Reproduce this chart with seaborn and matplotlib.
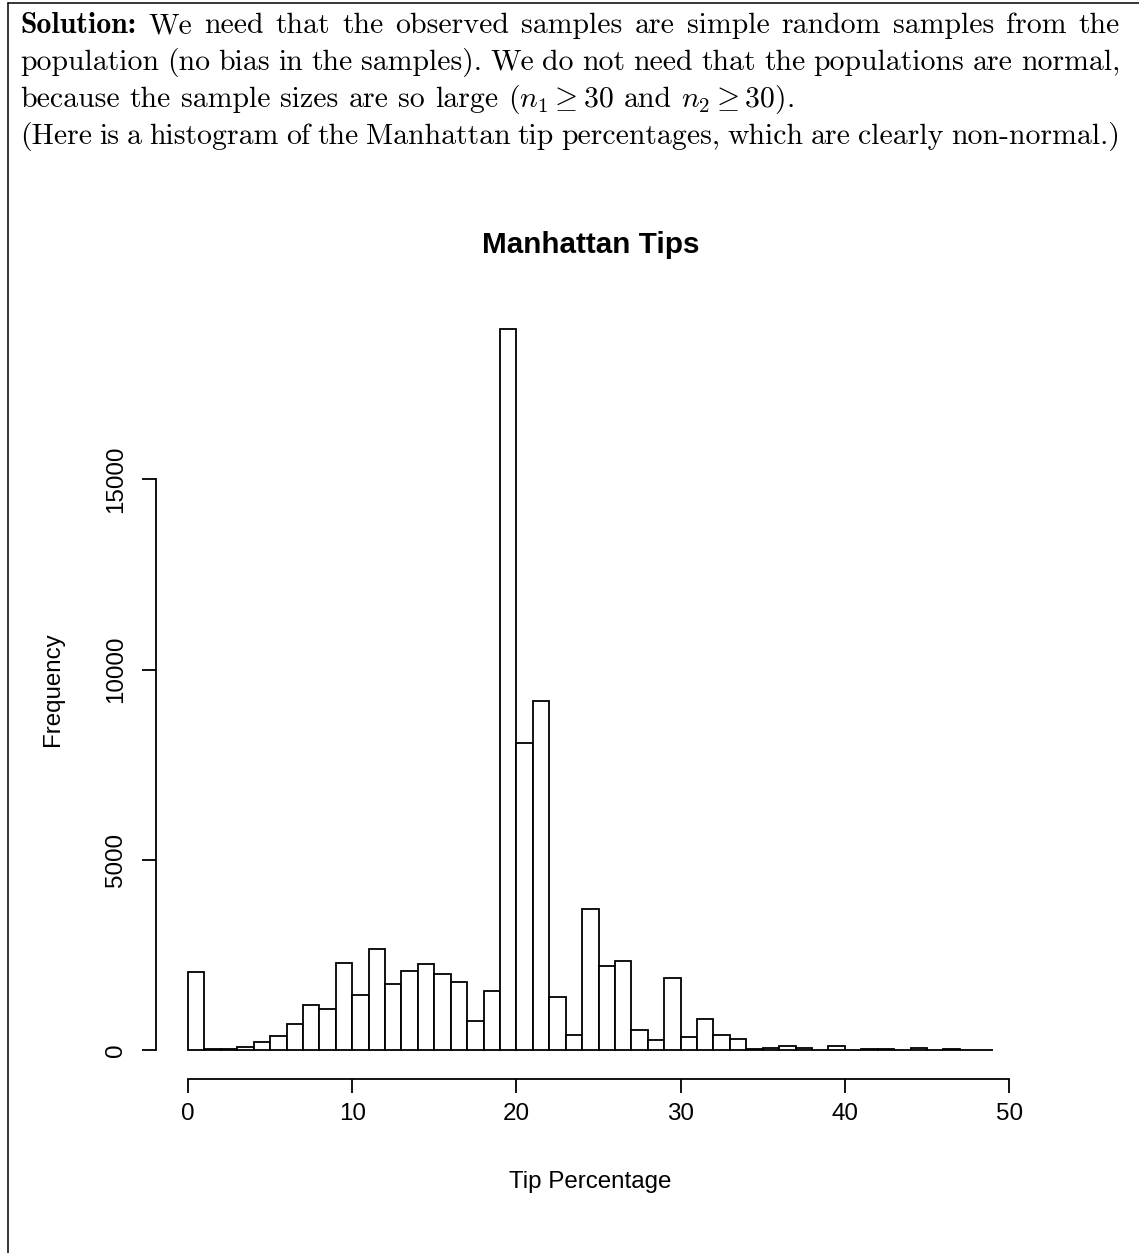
import numpy as np
import pandas as pd
import matplotlib
matplotlib.use("Agg")
import matplotlib.pyplot as plt
from matplotlib.lines import Line2D
import seaborn as sns

# Frequencies: one bar per 1-point bin, 0 to 49
bin_lefts = list(range(49))
counts = [2050, 35, 20, 90, 220, 380, 690, 1180, 1090, 2295,
          1440, 2670, 1740, 2080, 2260, 2000, 1780, 770, 1560, 18950,
          8070, 9170, 1390, 400, 3715, 2200, 2330, 530, 260, 1890,
          345, 810, 410, 285, 30, 60, 100, 60, 8, 120,
          6, 22, 30, 6, 55, 6, 20, 4, 4]
x_ticks = [0, 10, 20, 30, 40, 50]
y_ticks = [0, 5000, 10000, 15000]

title = "Manhattan Tips"
x_label = "Tip Percentage"
y_label = "Frequency"

# the paragraph above the plot, one list per printed line
line1 = "We need that the observed samples are simple random samples from the".split()
line2 = "population (no bias in the samples). We do not need that the populations are normal,".split()
line3 = ["because", "the", "sample", "sizes", "are", "so", "large",
         r"($n_1 \geq 30$", "and", r"$n_2 \geq 30$)."]
line4 = "(Here is a histogram of the Manhattan tip percentages, which are clearly non-normal.)".split()

W, H = 1139, 1253
TEXT_LEFT, TEXT_RIGHT = 20, 1120
LARGE_END = 497   # where "...so large" ends in the reference

sns.set_style("ticks")
plt.rcParams["font.family"] = ["Liberation Sans", "DejaVu Sans"]
plt.rcParams["mathtext.fontset"] = "cm"
plt.rcParams["text.color"] = "black"
plt.rcParams["axes.labelcolor"] = "black"

df = pd.DataFrame({"tip": [b + 0.5 for b in bin_lefts], "count": counts})
edges = bin_lefts + [bin_lefts[-1] + 1]

fig = plt.figure(figsize=(W / 100, H / 100), dpi=100)
fig.patch.set_facecolor("white")
ax = fig.add_axes([155.8 / W, 1 - 1079 / H, 869 / W, 779 / H])

sns.histplot(data=df, x="tip", weights="count", bins=edges, stat="count",
             color="white", edgecolor="black", linewidth=1.3, alpha=1, ax=ax)

# R style: 4% padding, axis lines only over the tick range
span = edges[-1] - edges[0]
ymax = max(counts)
ax.set_xlim(edges[0] - 0.04 * span, edges[-1] + 0.04 * span)
ax.set_ylim(-0.04 * ymax, 1.04 * ymax)
ax.set_facecolor("white")
ax.grid(False)
for side in ["top", "right"]:
    ax.spines[side].set_visible(False)
ax.spines["left"].set_bounds(y_ticks[0], y_ticks[-1])
ax.spines["bottom"].set_bounds(x_ticks[0], x_ticks[-1])
for side in ["left", "bottom"]:
    ax.spines[side].set_linewidth(1.3)
    ax.spines[side].set_color("black")

ax.set_xticks(x_ticks)
ax.set_xticklabels([str(t) for t in x_ticks])
ax.set_yticks(y_ticks)
ax.set_yticklabels([str(t) for t in y_ticks])
ax.tick_params(length=10.4, width=1.3, color="black", labelsize=17.4, labelcolor="black")
ax.tick_params(axis="x", pad=6.8)
ax.tick_params(axis="y", pad=10, labelrotation=90)
plt.setp(ax.get_yticklabels(), va="center")

ax.set_title(title, fontsize=21.3, fontweight="bold", pad=33.8, color="black")
ax.set_xlabel(x_label, fontsize=17.4, color="black")
ax.set_ylabel(y_label, fontsize=17.4, color="black")
ax.xaxis.set_label_coords(0.5, (1079 - 1171) / 779)
ax.yaxis.set_label_coords((64 - 155.8) / 869, 0.5)

# frame of the solution box
fig.add_artist(Line2D([8 / W, 8 / W], [0, 1 - 3 / H], transform=fig.transFigure,
                      color="black", lw=1.1))
fig.add_artist(Line2D([8 / W, 1], [1 - 3 / H, 1 - 3 / H], transform=fig.transFigure,
                      color="black", lw=1.1))

# LaTeX-like paragraph set word by word in Computer Modern
renderer = fig.canvas.get_renderer()


def set_words(words, families, size, y_px, justify):
    texts = [fig.text(0, 1 - y_px / H, w, family=f, fontsize=size, va="baseline",
                      color="black")
             for w, f in zip(words, families)]
    widths = [t.get_window_extent(renderer).width for t in texts]
    if justify:
        gap = (TEXT_RIGHT - TEXT_LEFT - sum(widths)) / (len(texts) - 1)
    else:
        gap = size * 100 / 72 / 3
    x = TEXT_LEFT
    for t, w in zip(texts, widths):
        t.set_x(x / W)
        x += w + gap
    return texts, x - gap - TEXT_LEFT


# pick the size from the plain-text start of the third line
probe, natural = set_words(line3[:7], ["cmr10"] * 7, 20, -100, False)
for t in probe:
    t.remove()
size = 20 * (LARGE_END - TEXT_LEFT) / natural

set_words(["Solution:"] + line1, ["cmb10"] + ["cmr10"] * len(line1), size, 33, True)
set_words(line2, ["cmr10"] * len(line2), size, 70, True)
set_words(line3, ["cmr10"] * len(line3), size, 107, False)
set_words(line4, ["cmr10"] * len(line4), size, 144, True)

fig.savefig("out.png", dpi=100)
